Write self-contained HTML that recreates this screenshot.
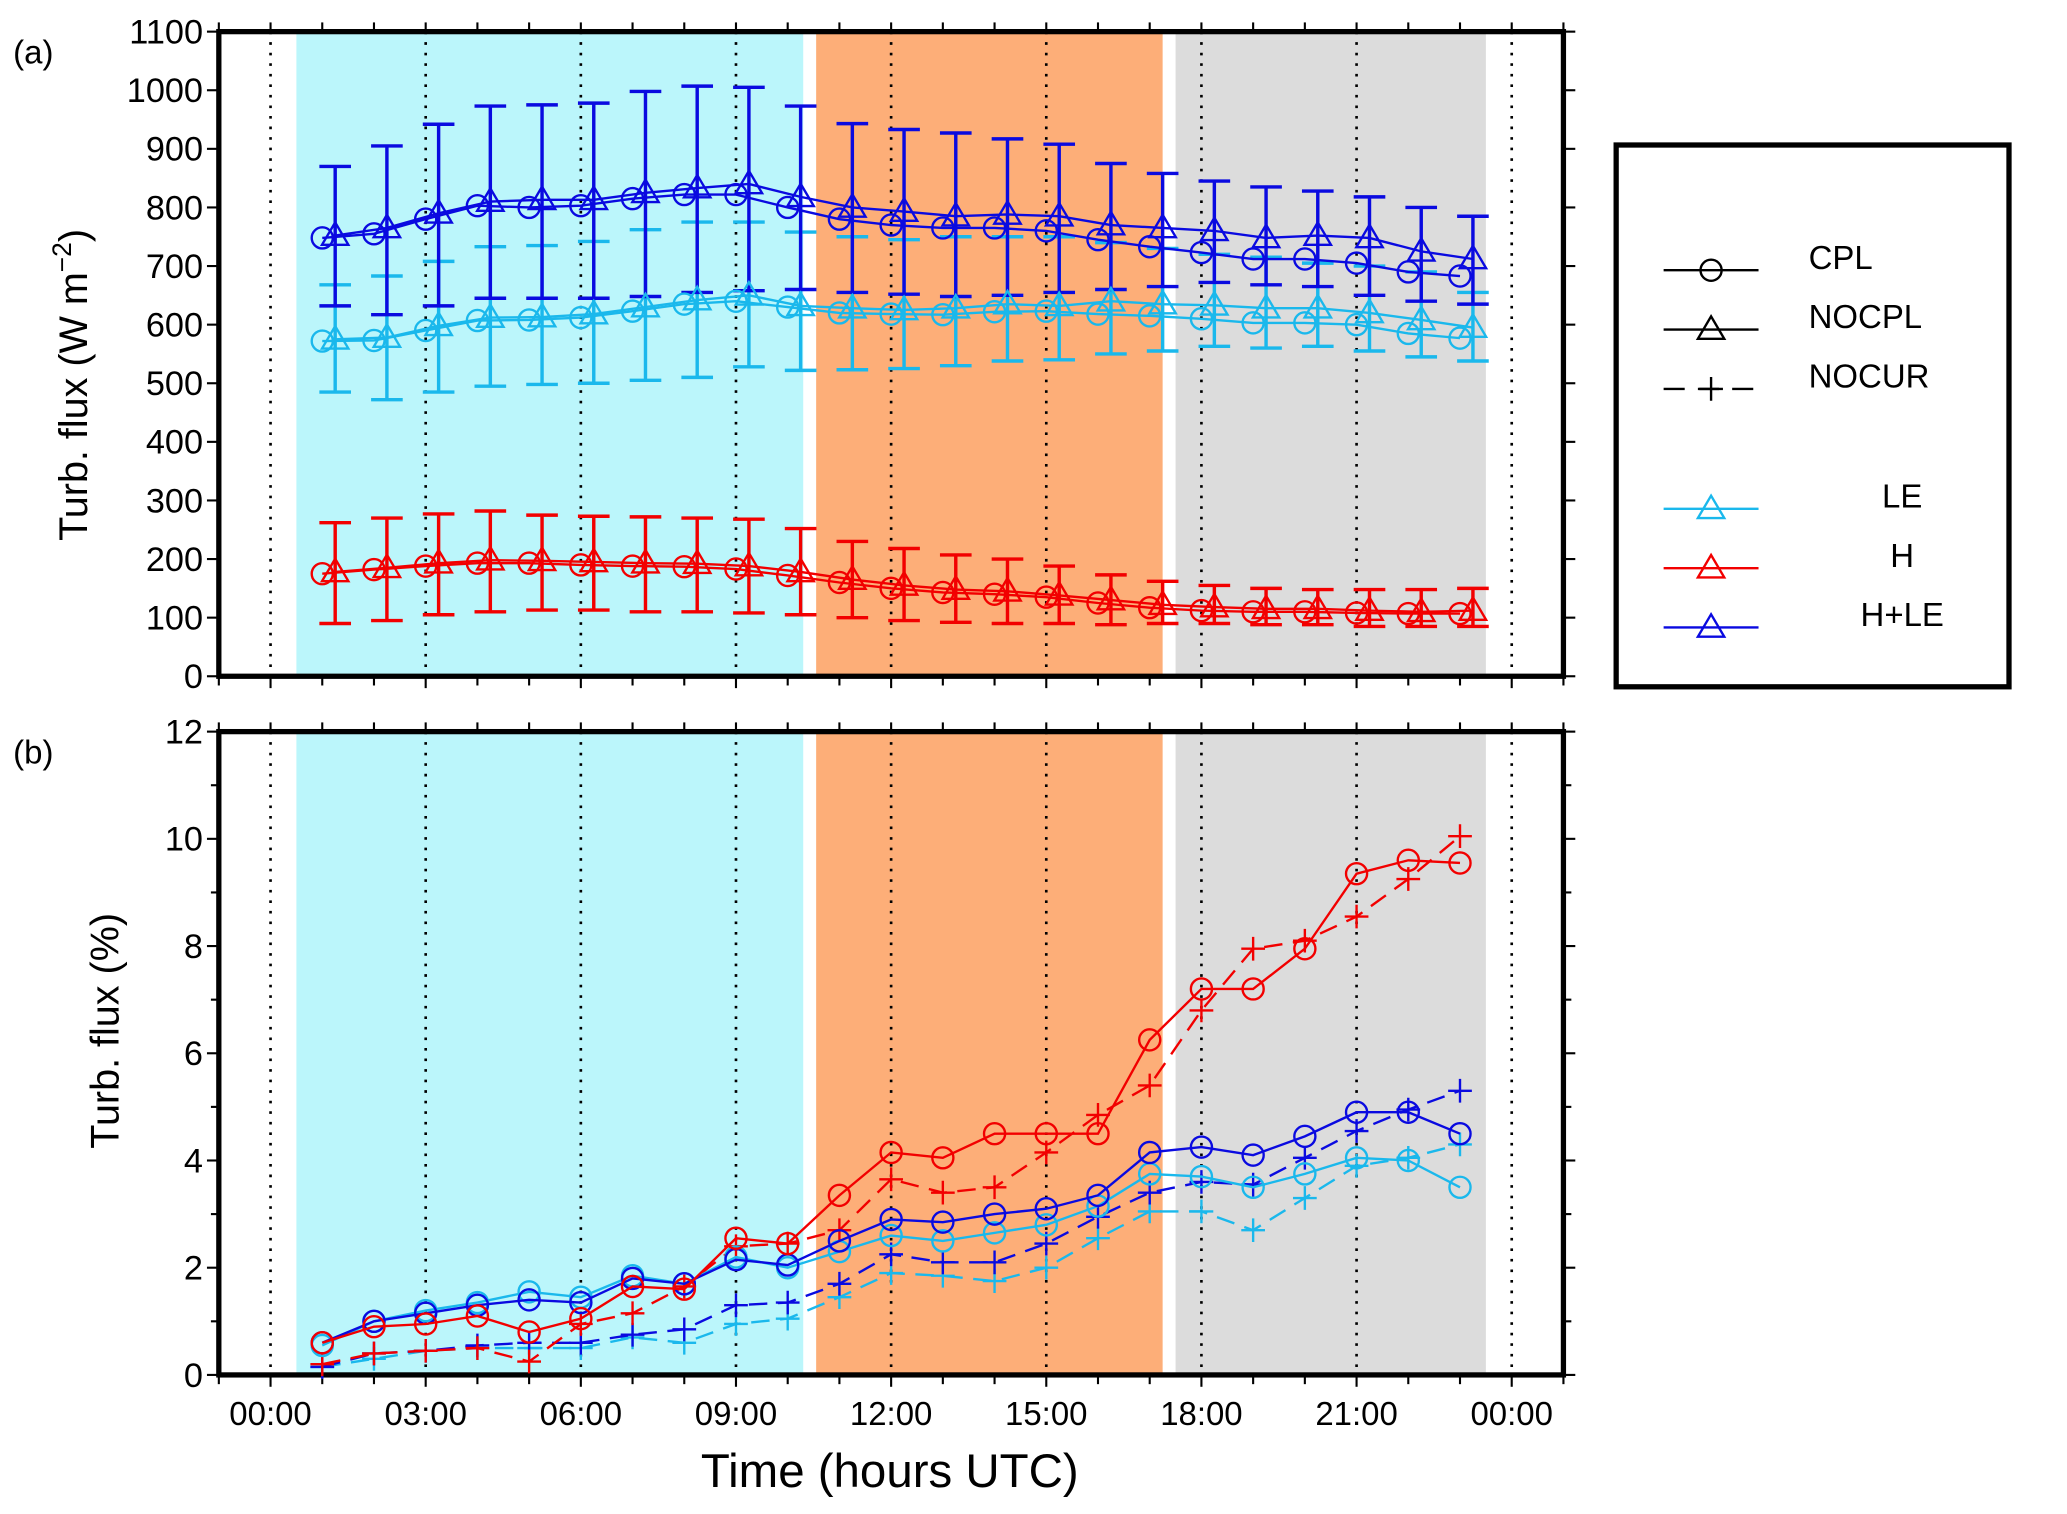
<!DOCTYPE html>
<html><head><meta charset="utf-8"><style>
html,body{margin:0;padding:0;background:#fff;}
svg{display:block;font-family:"Liberation Sans",Arial,sans-serif;}
</style></head><body>
<svg id="fig" width="2067" height="1514" viewBox="0 0 1568 1148.5" preserveAspectRatio="none" xmlns="http://www.w3.org/2000/svg"></svg>
<script>
const hours=[1,2,3,4,5,6,7,8,9,10,11,12,13,14,15,16,17,18,19,20,21,22,23];
const xTickLabels=["00:00","03:00","06:00","09:00","12:00","15:00","18:00","21:00","00:00"];
const yTicksA=[0,100,200,300,400,500,600,700,800,900,1000,1100];
const yTicksB=[0,2,4,6,8,10,12];
// panel a
const hleCpl=[748,755,780,803,800,803,815,822,822,800,780,770,765,765,760,745,733,723,712,712,705,690,683];
const hleNocpl=[752,765,790,810,813,813,825,833,840,818,800,793,785,788,785,770,765,760,748,752,748,725,712];
const hleUp=[870,905,942,973,975,978,998,1007,1005,973,943,933,927,917,908,875,858,845,835,828,818,800,785];
const hleLo=[632,617,632,645,645,645,648,655,658,660,655,652,648,650,655,660,665,672,668,665,650,640,635];
const leCpl=[572,573,590,607,608,612,623,635,640,630,620,618,617,622,623,618,615,610,603,603,600,585,577];
const leNocpl=[575,578,598,612,613,618,630,642,650,632,628,625,628,635,632,640,635,633,628,628,620,608,595];
const leUp=[668,683,708,733,735,742,762,775,775,758,750,745,750,750,750,740,730,720,715,705,700,690,655];
const leLo=[485,472,485,495,498,500,505,510,528,522,523,525,530,538,540,550,555,563,560,563,555,545,538];
const hCpl=[175,182,188,193,193,190,188,187,183,172,160,150,143,140,135,125,117,112,110,110,108,107,107];
const hNocpl=[178,185,193,198,197,195,193,192,188,178,165,155,148,145,138,130,122,118,115,115,112,110,112];
const hUp=[262,270,277,282,275,273,272,270,268,252,230,218,207,200,188,173,162,155,150,148,148,148,150];
const hLo=[90,95,105,110,113,113,110,110,108,105,100,95,92,90,90,88,90,90,88,88,85,85,85];
// panel b
const hPctCpl=[0.6,0.9,0.95,1.1,0.8,1.05,1.65,1.6,2.55,2.45,3.35,4.15,4.05,4.5,4.5,4.5,6.25,7.2,7.2,7.95,9.35,9.6,9.55];
const hPctNocur=[0.2,0.4,0.45,0.5,0.25,0.95,1.15,1.65,2.4,2.45,2.7,3.65,3.4,3.5,4.15,4.85,5.4,6.8,7.95,8.1,8.55,9.25,10.05];
const hlePctCpl=[0.6,1.0,1.15,1.3,1.4,1.35,1.8,1.7,2.15,2.05,2.5,2.9,2.85,3.0,3.1,3.35,4.15,4.25,4.1,4.45,4.9,4.9,4.5];
const hlePctNocur=[0.15,0.4,0.45,0.55,0.6,0.6,0.75,0.85,1.3,1.35,1.7,2.25,2.1,2.1,2.45,2.95,3.4,3.6,3.55,4.05,4.55,4.95,5.3];
const lePctCpl=[0.55,1.0,1.2,1.35,1.55,1.45,1.85,1.7,2.2,2.0,2.3,2.6,2.5,2.65,2.8,3.15,3.75,3.7,3.5,3.75,4.05,4.0,3.5];
const lePctNocur=[0.15,0.3,0.45,0.5,0.5,0.5,0.7,0.6,0.95,1.05,1.45,1.9,1.85,1.75,2.0,2.55,3.05,3.05,2.7,3.3,3.9,4.05,4.3];

const NS="http://www.w3.org/2000/svg";
const svg=document.getElementById('fig');
const BLUE="#0a0ae0",CYAN="#1ab8ec",RED="#f20000";
function mk(tag,attrs,parent,text){const e=document.createElementNS(NS,tag);for(const k in attrs)e.setAttribute(k,attrs[k]);if(text!==undefined)e.textContent=text;(parent||svg).appendChild(e);return e;}
const X0=166,X1=1186;
function xs(h){return X0+(h+1)/26*(X1-X0);}
const ya=v=>513-v/1100*(513-24);
const yb=v=>1043-v/12*(1043-555);

function panel(top,bot,ys,ticks,minorStep,maxV,label,name){
  const g=mk('g',{});
  
  
  const bands=[[0.5,10.3,'#bbf6fb'],[10.55,17.25,'#fdae78'],[17.5,23.5,'#dcdcdc']];
  bands.forEach((b,i)=>{const r=mk('rect',{x:xs(b[0]),y:top,width:xs(b[1])-xs(b[0]),height:bot-top,fill:b[2]},g);
    
    });
  for(let h=0;h<=24;h+=3){const l=mk('line',{x1:xs(h),x2:xs(h),y1:top,y2:bot,stroke:'#000','stroke-width':2,'stroke-dasharray':'2 6'},g);
    
    }
  for(let h=-1;h<=25;h++){
    mk('line',{x1:xs(h),x2:xs(h),y1:bot,y2:bot+(h%3===0?9:7),stroke:'#000','stroke-width':1.6},g);
    mk('line',{x1:xs(h),x2:xs(h),y1:top,y2:top-7,stroke:'#000','stroke-width':1.6},g);
  }
  for(let v=0;v<=maxV+1e-9;v+=minorStep){
    const isMaj=ticks.some(t=>Math.abs(t-v)<1e-9);
    mk('line',{x1:X0,x2:X0-(isMaj?9:6),y1:ys(v),y2:ys(v),stroke:'#000','stroke-width':1.6},g);
    mk('line',{x1:X1,x2:X1+(isMaj?9:6),y1:ys(v),y2:ys(v),stroke:'#000','stroke-width':1.6},g);
  }
  ticks.forEach(t=>{const tx=mk('text',{x:X0-12,y:ys(t)+9,'text-anchor':'end','font-size':26},g,String(t));
    
    });
  const fr=mk('rect',{x:X0,y:top,width:X1-X0,height:bot-top,fill:'none',stroke:'#000','stroke-width':4},g);
  
  
  const pl=mk('text',{x:10,y:top+24,'font-size':25},g,label);
  
  
  return g;
}
panel(24,513,ya,yTicksA,100,1100,'(a)','panel-a');
panel(555,1043,yb,yTicksB,1,12,'(b)','panel-b');

function tri(g,x,y,c){mk('path',{d:`M${x-10},${y+7}L${x+10},${y+7}L${x},${y-10}Z`,fill:'none',stroke:c,'stroke-width':1.8},g);}
function circ(g,x,y,c){mk('circle',{cx:x,cy:y,r:8,fill:'none',stroke:c,'stroke-width':1.8},g);}
function plus(g,x,y,c){mk('path',{d:`M${x-9},${y}H${x+9}M${x},${y-9}V${y+9}`,stroke:c,'stroke-width':1.8,fill:'none'},g);}
function series(vals,ys,c,marker,off,dash,name){
  const g=mk('g',{});
  
  
  const pts=vals.map((v,i)=>[xs(hours[i]+off),ys(v)]);
  const a={points:pts.map(p=>p.join(',')).join(' '),fill:'none',stroke:c,'stroke-width':1.8};
  if(dash)a['stroke-dasharray']='14 8';
  mk('polyline',a,g);
  pts.forEach(p=>marker(g,p[0],p[1],c));
  return g;
}
function errbars(lo,up,c,name){
  const g=mk('g',{});
  
  
  hours.forEach((h,i)=>{const x=xs(h+0.25);
    mk('path',{d:`M${x},${ya(lo[i])}V${ya(up[i])}M${x-12},${ya(lo[i])}H${x+12}M${x-12},${ya(up[i])}H${x+12}`,stroke:c,'stroke-width':2.6,fill:'none'},g);});
}
errbars(leLo,leUp,CYAN,'le-error-bars');
errbars(hleLo,hleUp,BLUE,'hle-error-bars');
errbars(hLo,hUp,RED,'h-error-bars');
series(hleCpl,ya,BLUE,circ,0,false,'hle-cpl-line');
series(hleNocpl,ya,BLUE,tri,0.25,false,'hle-nocpl-line');
series(leCpl,ya,CYAN,circ,0,false,'le-cpl-line');
series(leNocpl,ya,CYAN,tri,0.25,false,'le-nocpl-line');
series(hCpl,ya,RED,circ,0,false,'h-cpl-line');
series(hNocpl,ya,RED,tri,0.25,false,'h-nocpl-line');

series(lePctNocur,yb,CYAN,plus,0,true,'le-pct-nocur-line');
series(hlePctNocur,yb,BLUE,plus,0,true,'hle-pct-nocur-line');
series(hPctNocur,yb,RED,plus,0,true,'h-pct-nocur-line');
series(lePctCpl,yb,CYAN,circ,0,false,'le-pct-cpl-line');
series(hlePctCpl,yb,BLUE,circ,0,false,'hle-pct-cpl-line');
series(hPctCpl,yb,RED,circ,0,false,'h-pct-cpl-line');

xTickLabels.forEach((t,i)=>{const tx=mk('text',{x:xs(i*3),y:1081,'text-anchor':'middle','font-size':25},svg,t);
  
  });
let t=mk('text',{x:675,y:1128,'text-anchor':'middle','font-size':36},svg,'Time (hours UTC)');


t=mk('text',{transform:'translate(66,292) rotate(-90)','text-anchor':'middle','font-size':30},svg);


t.innerHTML='Turb. flux (W m<tspan dy="-12" font-size="20">−2</tspan><tspan dy="12">)</tspan>';
t=mk('text',{transform:'translate(90,782) rotate(-90)','text-anchor':'middle','font-size':30},svg,'Turb. flux (%)');



const lg=mk('g',{});


mk('rect',{x:1226,y:110,width:298,height:411,fill:'#fff',stroke:'#000','stroke-width':4},lg);
const entries=[['CPL',195,'#000',circ,false,1372,'start'],['NOCPL',240,'#000',tri,false,1372,'start'],['NOCUR',285,'#000',plus,true,1372,'start'],
  ['LE',376,CYAN,tri,false,1443,'middle'],['H',421,RED,tri,false,1443,'middle'],['H+LE',466,BLUE,tri,false,1443,'middle']];
entries.forEach(e=>{
  const g=mk('g',{},lg);
  
  
  const y=e[1]+10;
  const a={x1:1262,x2:1334,y1:y,y2:y,stroke:e[2],'stroke-width':1.8};
  if(e[4])a['stroke-dasharray']='16 10';
  mk('line',a,g);
  e[3](g,1298,y,e[2]);
  mk('text',{x:e[5],y:e[1]+9,'font-size':25,'text-anchor':e[6]},g,e[0]);
});
</script>
</body></html>
